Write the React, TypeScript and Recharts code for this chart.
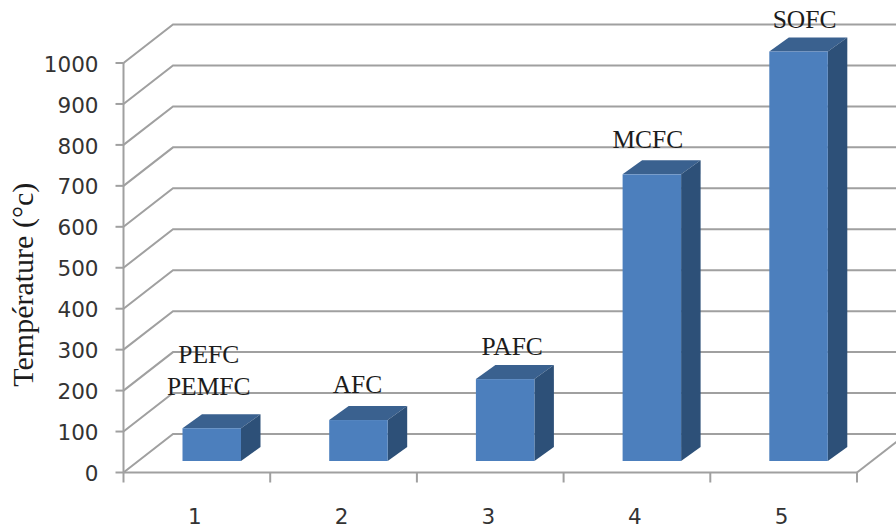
import { Bar, BarChart, CartesianGrid, XAxis, YAxis } from "recharts";

const categories = ["1", "2", "3", "4", "5"];
const temperatures = [80, 100, 200, 700, 1000];
const cellTypes = [["PEFC", "PEMFC"], ["AFC"], ["PAFC"], ["MCFC"], ["SOFC"]];
const yTicks = [0, 100, 200, 300, 400, 500, 600, 700, 800, 900, 1000];

const data = categories.map((name, i) => ({ name, temperature: temperatures[i] }));

const WIDTH = 896;
const HEIGHT = 529;
const MARGIN_TOP = 63;
const AXIS_WIDTH = 123.5;
const MARGIN_RIGHT = 39;
const XAXIS_HEIGHT = 56.5;
const PLOT_WIDTH = WIDTH - AXIS_WIDTH - MARGIN_RIGHT;
const FLOOR_Y = HEIGHT - XAXIS_HEIGHT;
const BAND = PLOT_WIDTH / categories.length;

// depth of the fake 3D box: walls, then the columns standing inside it
const WALL_DX = 49.5;
const WALL_DY = -38.5;
const BAR_DX = 15;
const BAR_DY = -11.5;
const DEPTH_DX = 19.5;
const DEPTH_DY = -14;

// hand placed labels, relative to the column's front face
const labelNudge = [
  [-3, -33],
  [-1, -27],
  [7, -24],
  [-4, -26],
  [6, -24],
];

const GREY = "#a0a0a0";
const LINE_WIDTH = 2;
const SANS = "'DejaVu Sans', sans-serif";
const SERIF = "'Liberation Serif', serif";

function GridLine(props: any) {
  const { x1, y1, x2 } = props;
  const isFloor = Math.abs(y1 - FLOOR_Y) < 1;
  return (
    <g key={`grid-${y1}`} fill="none" stroke={GREY} strokeWidth={LINE_WIDTH}>
      <path d={`M${x1},${y1} L${x1 + WALL_DX},${y1 + WALL_DY} L${x2 + WALL_DX},${y1 + WALL_DY}`} />
      {isFloor && <path d={`M${x2},${y1} L${x2 + WALL_DX},${y1 + WALL_DY}`} />}
    </g>
  );
}

function Column(props: any) {
  const { x, y, width, height, index } = props;
  const left = x + BAR_DX;
  const top = y + BAR_DY;
  const right = left + width;
  const bottom = top + height;
  const labels: string[] = cellTypes[index];
  const [nudgeX, nudgeY] = labelNudge[index];
  return (
    <g>
      <path
        d={`M${left},${top} L${left + DEPTH_DX},${top + DEPTH_DY} L${right + DEPTH_DX},${top + DEPTH_DY} L${right},${top} Z`}
        fill="#3a618f"
      />
      <path
        d={`M${right},${top} L${right + DEPTH_DX},${top + DEPTH_DY} L${right + DEPTH_DX},${bottom + DEPTH_DY} L${right},${bottom} Z`}
        fill="#2d5078"
      />
      <rect x={left} y={top} width={width} height={height} fill="#4c7fbd" />
      {labels.map((text, i) => (
        <text
          key={text}
          x={left + width / 2 + nudgeX}
          y={top + nudgeY - (labels.length - 1 - i) * 32}
          textAnchor="middle"
          fontFamily={SERIF}
          fontSize={25.5}
          fill="#1c1c1c"
        >
          {text}
        </text>
      ))}
    </g>
  );
}

// category axis of a 3D column chart: tick marks sit on the band edges
function CategoryTick(props: any) {
  const { x, y, payload, index } = props;
  const edge = x - BAND / 2;
  return (
    <g>
      <line x1={edge} y1={y} x2={edge} y2={y + 10} stroke={GREY} strokeWidth={LINE_WIDTH} />
      {index === categories.length - 1 && (
        <line x1={edge + BAND} y1={y} x2={edge + BAND} y2={y + 10} stroke={GREY} strokeWidth={LINE_WIDTH} />
      )}
      <text x={x - 2} y={y + 51} textAnchor="middle" fontFamily={SANS} fontSize={21.5} fill="#333">
        {payload.value}
      </text>
    </g>
  );
}

export default function App() {
  return (
    <div style={{ position: "absolute", left: 0, top: 0, width: WIDTH, height: HEIGHT, background: "#fff" }}>
      <BarChart
        width={WIDTH}
        height={HEIGHT}
        data={data}
        barSize={58.5}
        margin={{ top: MARGIN_TOP, right: MARGIN_RIGHT, bottom: 0, left: 0 }}
      >
        <CartesianGrid vertical={false} horizontal={GridLine} syncWithTicks />
        <XAxis
          dataKey="name"
          height={XAXIS_HEIGHT}
          interval={0}
          tickLine={false}
          tickSize={0}
          tickMargin={0}
          axisLine={{ stroke: GREY, strokeWidth: LINE_WIDTH }}
          tick={CategoryTick}
        />
        <YAxis
          width={AXIS_WIDTH}
          domain={[0, 1000]}
          ticks={yTicks}
          interval={0}
          tickSize={8}
          tickMargin={17}
          axisLine={{ stroke: GREY, strokeWidth: LINE_WIDTH }}
          tickLine={{ stroke: GREY, strokeWidth: LINE_WIDTH }}
          tick={{ fontFamily: SANS, fontSize: 21.5, fill: "#333", dy: 1 }}
          label={{
            value: "Température (°c)",
            angle: -90,
            position: "insideLeft",
            offset: 0,
            dx: 22,
            dy: 17,
            style: { fontFamily: SERIF, fontSize: 30, fill: "#1c1c1c", textAnchor: "middle" },
          }}
        />
        <Bar dataKey="temperature" shape={Column} isAnimationActive={false} />
      </BarChart>
    </div>
  );
}
